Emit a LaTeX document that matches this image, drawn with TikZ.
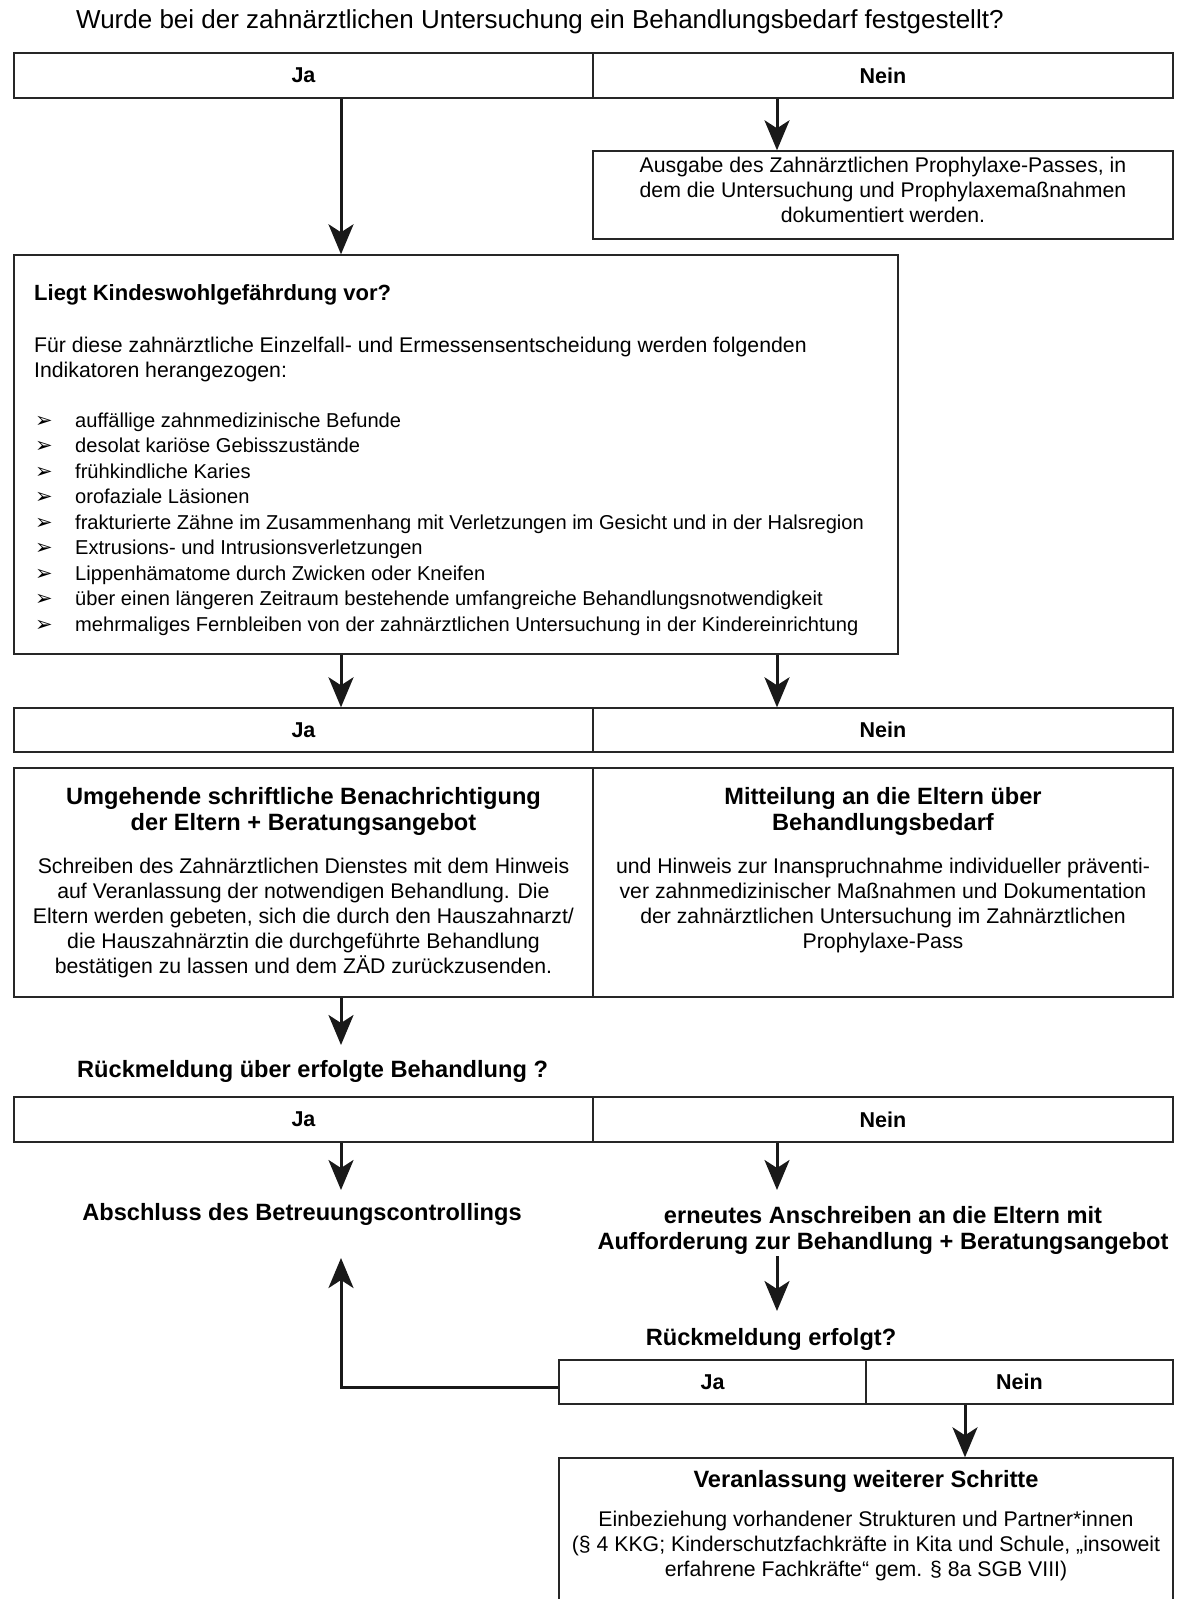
\documentclass[tikz,border=0pt]{standalone}
\usepackage{fontspec}
\setmainfont{Liberation Sans}
\newfontfamily\symf{DejaVu Sans}
\usetikzlibrary{arrows.meta}
\newcommand{\ctext}[1]{\begin{tabular}[t]{@{}c@{}}#1\end{tabular}}
\newcommand{\ltext}[1]{\begin{tabular}[t]{@{}l@{}}#1\end{tabular}}
\newcommand{\bul}{\makebox[40pt][l]{\symf\fontsize{21}{21}\selectfont ➢}}
\begin{document}
\begin{tikzpicture}[x=1pt,y=-1pt,
  box/.style={draw=black!85, line width=1.4pt, rectangle, inner sep=0pt},
  cell/.style={box, font=\fontsize{21.5}{25}\selectfont\bfseries},
  conn/.style={draw=black!90, line width=3pt, -{Stealth[length=30pt,width=25pt,inset=8pt]}},
  body/.style={font=\fontsize{21.25}{25.2}\selectfont, inner sep=0pt, anchor=base},
  bodyl/.style={body, anchor=base west},
  head/.style={font=\fontsize{23.6}{26.5}\selectfont\bfseries, inner sep=0pt, anchor=base}
]
\useasboundingbox (0,0) rectangle (1180,1599);
\fill[white] (0,0) rectangle (1180,1599);

% title
\node[body, anchor=base west, font=\fontsize{26}{30}\selectfont] (title) at (76,28)
  {Wurde bei der zahnärztlichen Untersuchung ein Behandlungsbedarf festgestellt?};

% bar 1
\node[cell, minimum width=579pt, minimum height=45pt] (b1ja) at (303.5,75.5) {Ja};
\node[cell, minimum width=580pt, minimum height=45pt] (b1nein) at (883,75.5) {Nein};

% Ausgabe box
\node[box, minimum width=580pt, minimum height=88pt] (ausgabe) at (883,195) {};
\node[body] (ausgabetxt) at (883,172) {\ctext{Ausgabe des Zahnärztlichen Prophylaxe-Passes, in\\
dem die Untersuchung und Prophylaxemaßnahmen\\ dokumentiert werden.}};

% Liegt box
\node[box, minimum width=884pt, minimum height=399pt] (liegt) at (456,454.5) {};
\node[head, anchor=base west, font=\fontsize{22}{26}\selectfont\bfseries] (liegttitle) at (34,300) {Liegt Kindeswohlgefährdung vor?};
\node[bodyl] (liegtpara) at (34,352) {\ltext{Für diese zahnärztliche Einzelfall- und Ermessensentscheidung werden folgenden\\
Indikatoren herangezogen:}};
\node[bodyl, font=\fontsize{20.1}{25.5}\selectfont] (liegtlist) at (35,427) {\ltext{%
\bul auffällige zahnmedizinische Befunde\\
\bul desolat kariöse Gebisszustände\\
\bul frühkindliche Karies\\
\bul orofaziale Läsionen\\
\bul frakturierte Zähne im Zusammenhang mit Verletzungen im Gesicht und in der Halsregion\\
\bul Extrusions- und Intrusionsverletzungen\\
\bul Lippenhämatome durch Zwicken oder Kneifen\\
\bul über einen längeren Zeitraum bestehende umfangreiche Behandlungsnotwendigkeit\\
\bul mehrmaliges Fernbleiben von der zahnärztlichen Untersuchung in der Kindereinrichtung}};

% bar 2
\node[cell, minimum width=579pt, minimum height=44pt] (b2ja) at (303.5,730) {Ja};
\node[cell, minimum width=580pt, minimum height=44pt] (b2nein) at (883,730) {Nein};

% pair boxes
\node[box, minimum width=579pt, minimum height=229pt] (umg) at (303.5,882.5) {};
\node[box, minimum width=580pt, minimum height=229pt] (mitt) at (883,882.5) {};
\node[head] (umgtitle) at (303.5,804) {\ctext{Umgehende schriftliche Benachrichtigung\\ der Eltern + Beratungsangebot}};
\node[body] (umgtxt) at (303.5,873) {\ctext{Schreiben des Zahnärztlichen Dienstes mit dem Hinweis\\
auf Veranlassung der notwendigen Behandlung. Die\\
Eltern werden gebeten, sich die durch den Hauszahnarzt/\\
die Hauszahnärztin die durchgeführte Behandlung\\
bestätigen zu lassen und dem ZÄD zurückzusenden.}};
\node[head] (mitttitle) at (883,804) {\ctext{Mitteilung an die Eltern über\\ Behandlungsbedarf}};
\node[body] (mitttxt) at (883,873) {\ctext{und Hinweis zur Inanspruchnahme individueller präventi-\\
ver zahnmedizinischer Maßnahmen und Dokumentation\\
der zahnärztlichen Untersuchung im Zahnärztlichen\\
Prophylaxe-Pass}};

% Rückmeldung über
\node[head, anchor=base west] (rueck1) at (77,1077) {Rückmeldung über erfolgte Behandlung ?};

% bar 3
\node[cell, minimum width=579pt, minimum height=45pt] (b3ja) at (303.5,1119.5) {Ja};
\node[cell, minimum width=580pt, minimum height=45pt] (b3nein) at (883,1119.5) {Nein};

\node[head] (abschluss) at (302,1220) {Abschluss des Betreuungscontrollings};
\node[head] (erneut) at (883,1223) {\ctext{erneutes Anschreiben an die Eltern mit\\ Aufforderung zur Behandlung + Beratungsangebot}};

\node[head] (rueck2) at (771,1345) {Rückmeldung erfolgt?};

% bar 4
\node[cell, minimum width=307pt, minimum height=44pt] (b4ja) at (712.5,1382) {Ja};
\node[cell, minimum width=307pt, minimum height=44pt] (b4nein) at (1019.5,1382) {Nein};

% Veranlassung box
\node[box, minimum width=614pt, minimum height=190pt] (veran) at (866,1553) {};
\node[head] (verantitle) at (866,1487) {Veranlassung weiterer Schritte};
\node[body] (verantxt) at (866,1526) {\ctext{Einbeziehung vorhandener Strukturen und Partner*innen\\
(§ 4 KKG; Kinderschutzfachkräfte in Kita und Schule, „insoweit\\
erfahrene Fachkräfte“ gem. § 8a SGB VIII)}};

% connector x positions
\coordinate (xa) at (341,0);
\coordinate (xb) at (777,0);
\coordinate (xc) at (965,0);
\coordinate (abtop) at (341,1045);
\coordinate (b3jatip) at (341,1190);
\coordinate (b3neintip) at (777,1190);
\coordinate (erneutbot) at (777,1256);
\coordinate (erneuttip) at (777,1311);
\coordinate (uptip) at (341,1258);

\draw[conn] (b1ja.south -| xa) -- (liegt.north -| xa);
\draw[conn] (b1nein.south -| xb) -- (ausgabe.north -| xb);
\draw[conn] (liegt.south -| xa) -- (b2ja.north -| xa);
\draw[conn] (liegt.south -| xb) -- (b2nein.north -| xb);
\draw[conn] (umg.south -| xa) -- (abtop);
\draw[conn] (b3ja.south -| xa) -- (b3jatip);
\draw[conn] (b3nein.south -| xb) -- (b3neintip);
\draw[conn] (erneutbot) -- (erneuttip);
\draw[conn] ([yshift=-5pt]b4ja.west) -| (uptip);
\draw[conn] (b4nein.south -| xc) -- (veran.north -| xc);
\end{tikzpicture}
\end{document}
